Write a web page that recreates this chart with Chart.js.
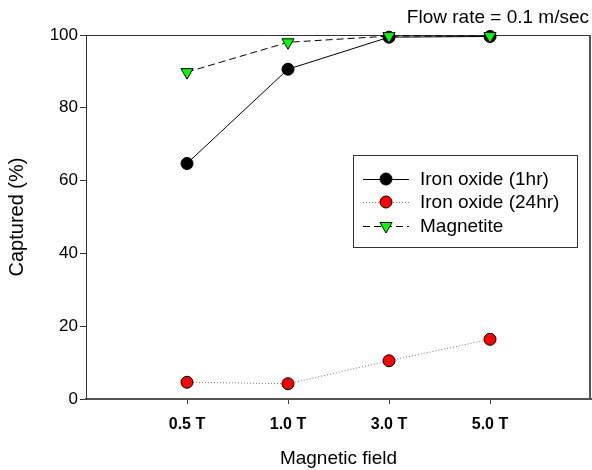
<!DOCTYPE html>
<html>
<head>
<meta charset="utf-8">
<script src="https://cdn.jsdelivr.net/npm/chart.js@4.4.1/dist/chart.umd.min.js"></script>
<style>
html,body{margin:0;padding:0;background:#fff;}
#wrap{width:592px;height:470px;position:relative;}
</style>
</head>
<body>
<div id="wrap"><canvas id="c" width="592" height="470"></canvas></div>
<script>
// ---- data ----
const categories = ['0.5 T', '1.0 T', '3.0 T', '5.0 T'];
const ironOxide1hr = [64.7, 90.6, 99.4, 99.6];
const ironOxide24hr = [4.6, 4.2, 10.5, 16.4];
const magnetite = [89.8, 98.0, 99.7, 99.7];
const yTicks = [0, 20, 40, 60, 80, 100];
const seriesLabels = ['Iron oxide (1hr)', 'Iron oxide (24hr)', 'Magnetite'];
const titleText = 'Flow rate = 0.1 m/sec';
const xTitle = 'Magnetic field';
const yTitle = 'Captured (%)';

const FONT = '"Liberation Sans", Arial, sans-serif';
const toXY = arr => arr.map((v, i) => ({x: i + 1, y: v}));

const datasets = [
  {label: seriesLabels[0], data: toXY(ironOxide1hr), borderColor: '#000', borderWidth: 1,
   pointBackgroundColor: '#000', pointBorderColor: '#000', pointRadius: 6, pointBorderWidth: 1,
   pointStyle: 'circle', order: 2, clip: false},
  {label: seriesLabels[1], data: toXY(ironOxide24hr), borderColor: '#777', borderWidth: 1, borderDash: [1, 2],
   pointBackgroundColor: '#ff0000', pointBorderColor: '#000', pointRadius: 6, pointBorderWidth: 1,
   pointStyle: 'circle', order: 1, clip: false},
  {label: seriesLabels[2], data: toXY(magnetite), borderColor: '#000', borderWidth: 1, borderDash: [7, 4],
   pointBackgroundColor: '#00ff00', pointBorderColor: '#000', pointRadius: 7, pointBorderWidth: 1,
   pointStyle: 'triangle', pointRotation: 180, order: 0, clip: false}
];

const framePlugin = {
  id: 'frame',
  beforeDatasetsDraw(chart) {
    const {ctx, chartArea: a} = chart;
    ctx.save();
    ctx.strokeStyle = '#333';
    ctx.lineWidth = 1;
    ctx.beginPath();
    ctx.moveTo(a.left, a.top + 0.5);
    ctx.lineTo(a.right, a.top + 0.5);
    ctx.stroke();
    ctx.strokeStyle = '#555';
    ctx.lineWidth = 2;
    ctx.beginPath();
    ctx.moveTo(a.right - 1, a.top);
    ctx.lineTo(a.right - 1, a.bottom);
    ctx.stroke();
    ctx.restore();
  },
  afterDraw(chart) {
    const {ctx} = chart;
    ctx.save();
    // title
    ctx.fillStyle = '#000';
    ctx.font = '19px ' + FONT;
    ctx.textAlign = 'right';
    ctx.textBaseline = 'alphabetic';
    ctx.fillText(titleText, 589, 23);
    // legend
    const bx = 353, by = 155, bw = 224, bh = 92;
    ctx.fillStyle = '#fff';
    ctx.fillRect(bx, by, bw, bh);
    ctx.strokeStyle = '#333';
    ctx.lineWidth = 1;
    ctx.strokeRect(bx + 0.5, by + 0.5, bw, bh);
    const rows = [179, 202, 226];
    chart.data.datasets.forEach((ds, i) => {
      const y = rows[i];
      ctx.save();
      ctx.strokeStyle = ds.borderColor;
      ctx.lineWidth = ds.borderWidth;
      ctx.setLineDash(ds.borderDash || []);
      ctx.beginPath();
      ctx.moveTo(363, y + 0.5);
      ctx.lineTo(409, y + 0.5);
      ctx.stroke();
      ctx.restore();
      ctx.save();
      ctx.fillStyle = ds.pointBackgroundColor;
      ctx.strokeStyle = ds.pointBorderColor;
      ctx.lineWidth = ds.pointBorderWidth;
      Chart.helpers.drawPoint(ctx, {pointStyle: ds.pointStyle, radius: ds.pointRadius,
        rotation: ds.pointRotation || 0, borderWidth: ds.pointBorderWidth}, 386, y);
      ctx.restore();
      ctx.fillStyle = '#000';
      ctx.font = '19px ' + FONT;
      ctx.textAlign = 'left';
      ctx.textBaseline = 'middle';
      ctx.fillText(ds.label, 420, y + 1);
    });
    ctx.restore();
  }
};

new Chart(document.getElementById('c'), {
  type: 'line',
  data: {datasets},
  options: {
    responsive: false,
    animation: false,
    devicePixelRatio: 1,
    layout: {autoPadding: false, padding: {top: 35, right: 1, left: 0, bottom: 0}},
    plugins: {legend: {display: false}, tooltip: {enabled: false}, title: {display: false}},
    elements: {line: {tension: 0}},
    scales: {
      x: {
        type: 'linear', min: 0, max: 5,
        afterBuildTicks: s => { s.ticks = categories.map((c, i) => ({value: i + 1})); },
        afterFit: s => { s.height = 71; s.paddingLeft = 0; s.paddingRight = 0; },
        grid: {drawOnChartArea: false, drawTicks: true, tickLength: 5, color: '#444'},
        border: {display: true, color: '#555', width: 2},
        ticks: {
          padding: 11, color: '#000', maxRotation: 0, autoSkip: false,
          font: {family: FONT, size: 16, weight: 'bold'},
          callback: v => categories[v - 1]
        },
        title: {display: true, text: xTitle, color: '#000', font: {family: FONT, size: 19}, padding: {top: 0, bottom: 0}}
      },
      y: {
        min: 0, max: 100,
        afterBuildTicks: s => { s.ticks = yTicks.map(v => ({value: v})); },
        afterFit: s => { s.width = 86; s.paddingTop = 0; s.paddingBottom = 0; },
        grid: {drawOnChartArea: false, drawTicks: true, tickLength: 6, color: '#333'},
        border: {display: true, color: '#333'},
        ticks: {padding: 2, color: '#000', font: {family: FONT, size: 17}},
        title: {display: true, text: yTitle, color: '#000', font: {family: FONT, size: 20}, padding: {top: 5, bottom: 0}}
      }
    }
  },
  plugins: [framePlugin]
});
</script>
</body>
</html>
